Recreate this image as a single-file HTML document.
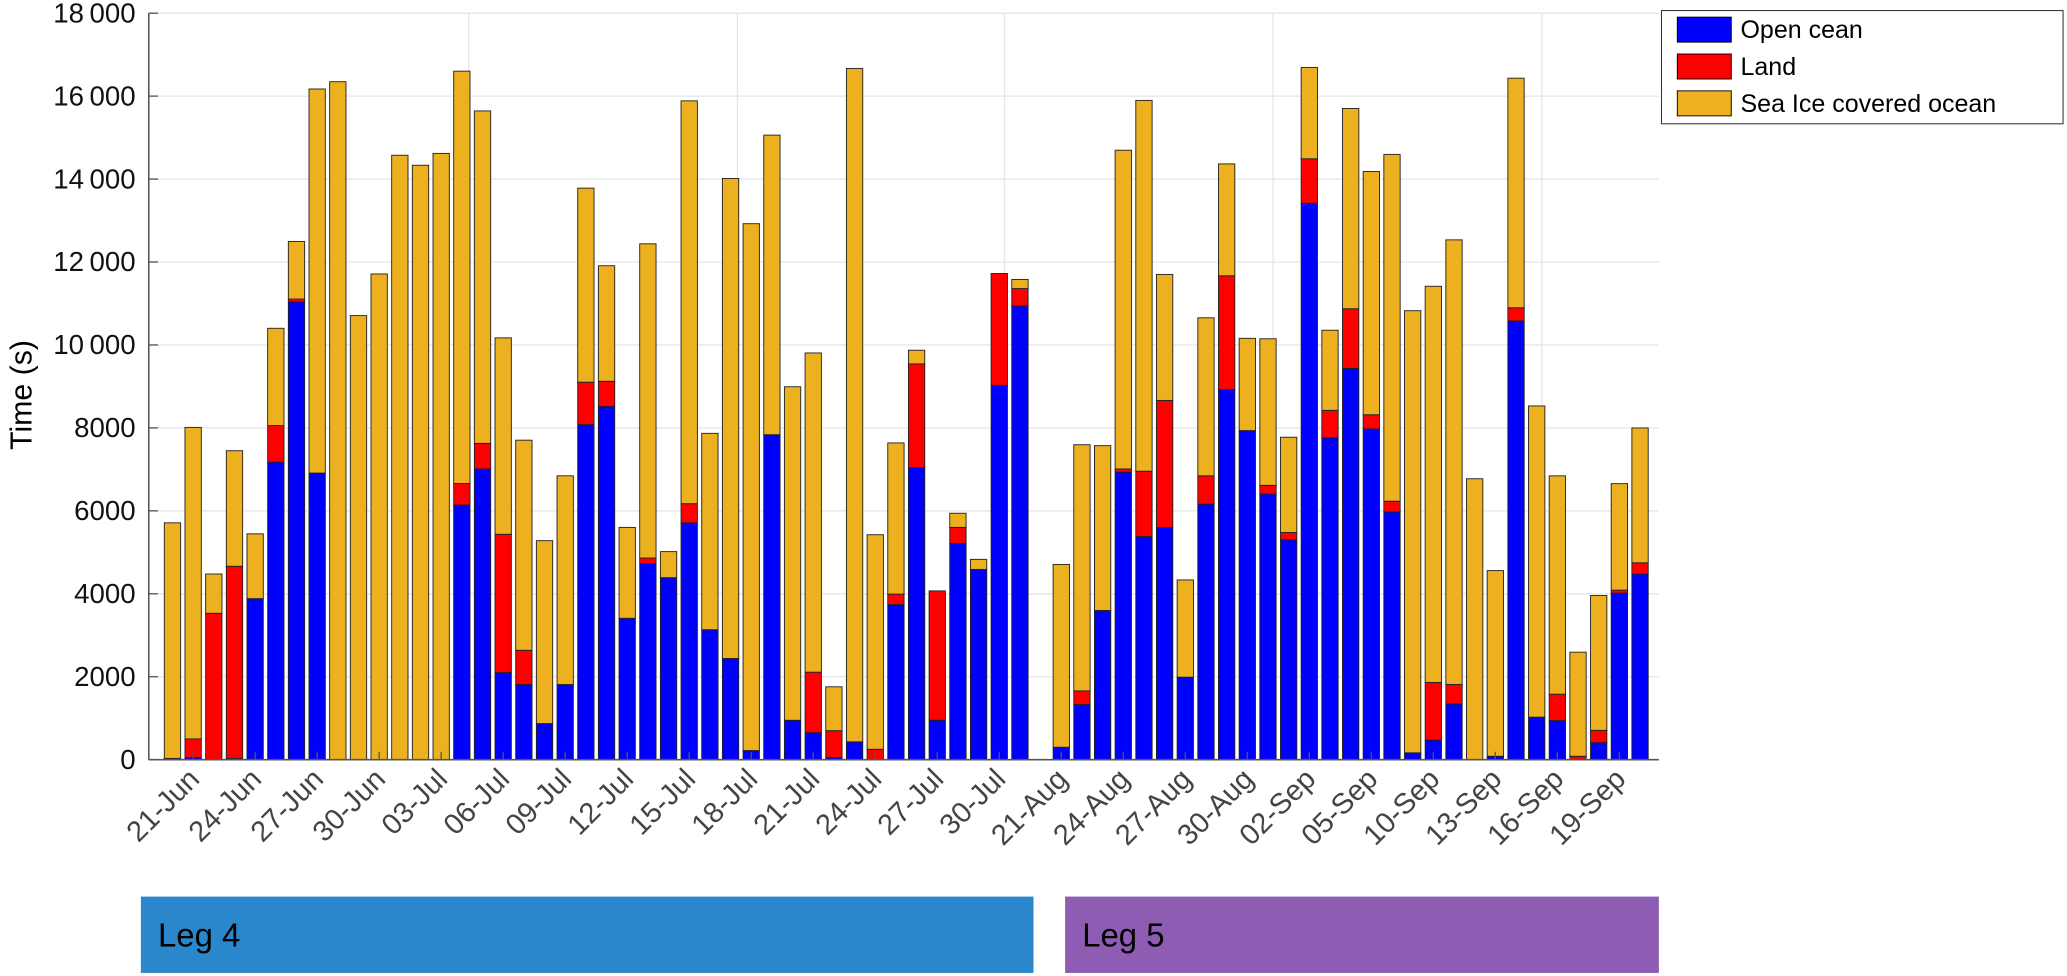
<!DOCTYPE html>
<html><head><meta charset="utf-8"><style>
html,body{margin:0;padding:0;background:#fff;}
svg{display:block;font-family:"Liberation Sans",sans-serif;}
</style></head><body>
<svg id="chart" width="2067" height="976" viewBox="0 0 1570 741.3" xmlns="http://www.w3.org/2000/svg">
<g id="grid"></g>
<g id="bars"></g>
<g id="axes"></g>
<text transform="translate(24,300) rotate(-90)" text-anchor="middle" font-size="23" fill="#000">Time (s)</text>
<g>
<rect x="1262" y="8" width="305" height="86" fill="#fff" stroke="#333" stroke-width="0.8"/>
<rect x="1274" y="13" width="41" height="19" fill="#0000ff" stroke="#000" stroke-width="0.7"/>
<text x="1322" y="29" font-size="19">Open cean</text>
<rect x="1274" y="41" width="41" height="19" fill="#ff0000" stroke="#000" stroke-width="0.7"/>
<text x="1322" y="57" font-size="19">Land</text>
<rect x="1274" y="69" width="41" height="19" fill="#edb120" stroke="#000" stroke-width="0.7"/>
<text x="1322" y="85" font-size="19">Sea Ice covered ocean</text>
</g>
<g>
<rect x="107" y="681" width="678" height="58" fill="#2b87cb"/>
<text x="120" y="719" font-size="25" fill="#000">Leg 4</text>
</g>
<g>
<rect x="809" y="681" width="451" height="58" fill="#8e5db3"/>
<text x="822" y="719" font-size="25" fill="#000">Leg 5</text>
</g>
</svg>
<script>
const openOcean = [30,50,0,30,3883,7175,11040,6911,0,0,0,0,0,0,6140,7010,2100,1812,870,1812,8078,8519,3409,4730,4389,5711,3134,2440,220,7836,950,650,50,430,0,3740,7043,950,5215,4587,9025,10941,0,300,1328,3597,6933,5380,5600,1989,6162,8926,7935,6405,5301,13417,7763,9436,7975,5972,165,471,1343,0,82,10578,1025,942,0,412,4017,4476];
const land = [0,450,3530,4634,0,881,67,0,0,0,0,0,0,0,518,617,3335,826,0,0,1024,605,0,133,0,462,0,0,0,0,0,1460,650,0,250,253,2500,3120,386,0,2698,419,0,0,330,0,77,1575,3062,0,683,2742,0,209,177,1072,660,1437,342,260,0,1390,471,0,0,319,0,637,82,295,71,271];
const seaIce = [5681,7512,947,2786,1563,2346,1387,9261,16348,10708,11712,14575,14333,14619,9944,8016,4736,5066,4411,5033,4680,2786,2192,7576,628,9713,4735,11574,12704,7224,8042,7697,1057,16238,5174,3645,330,0,341,243,0,220,0,4408,5936,3975,7686,8942,3039,2345,3810,2698,2225,3535,2297,2203,1932,4830,5866,8363,10661,9554,10720,6774,4477,5536,7504,5265,2510,3251,2568,3252];
const tickLabels = ["21-Jun","24-Jun","27-Jun","30-Jun","03-Jul","06-Jul","09-Jul","12-Jul","15-Jul","18-Jul","21-Jul","24-Jul","27-Jul","30-Jul","21-Aug","24-Aug","27-Aug","30-Aug","02-Sep","05-Sep","10-Sep","13-Sep","16-Sep","19-Sep"];
const tickBars = [2,5,8,11,14,17,20,23,26,29,32,35,38,41,44,47,50,53,56,59,62,65,68,71];
const yTicks = [0,2000,4000,6000,8000,10000,12000,14000,16000,18000];
const yTickText = ["0","2000","4000","6000","8000","10\u2009000","12\u2009000","14\u2009000","16\u2009000","18\u2009000"];
const vGrid = [15.33,28.33,41.25,54.25,67.25];

const NS="http://www.w3.org/2000/svg";
const X0=113,X1=1260,Y0=577,Y1=10,YMAX=18000;
function xs(i){return 131+(i-1)*15.7;}
function ys(v){return Y0-(v/YMAX)*(Y0-Y1);}
function mk(tag,attrs,parent){const e=document.createElementNS(NS,tag);for(const k in attrs)e.setAttribute(k,attrs[k]);parent.appendChild(e);return e;}
const grid=document.getElementById('grid'),bars=document.getElementById('bars'),axes=document.getElementById('axes');
yTicks.forEach((v,k)=>{
  const l=mk('line',{x1:X0,x2:X1,y1:ys(v),y2:ys(v),stroke:'#e6e6e6','stroke-width':1},grid);
  
  
  const t=mk('line',{x1:X0,x2:X0+7,y1:ys(v),y2:ys(v),stroke:'#555','stroke-width':1},axes);
  
  
  const tx=mk('text',{x:103,y:ys(v)+7,'text-anchor':'end','font-size':21,fill:'#111'},axes);
  tx.textContent=yTickText[k];
  
  
});
vGrid.forEach(b=>{
  const l=mk('line',{x1:xs(b),x2:xs(b),y1:Y1,y2:Y0,stroke:'#e6e6e6','stroke-width':1},grid);
  
  
});
const W=12.4;
for(let i=0;i<openOcean.length;i++){
  const tot=openOcean[i]+land[i]+seaIce[i];
  if(tot<=0)continue;
  const cx=xs(i+1);
  const segs=[[0,openOcean[i],'#0000ff','bar-open-ocean'],[openOcean[i],openOcean[i]+land[i],'#ff0000','bar-land'],[openOcean[i]+land[i],tot,'#edb120','bar-sea-ice']];
  segs.forEach(s=>{
    if(s[1]-s[0]<=0)return;
    const r=mk('rect',{x:cx-W/2,y:ys(s[1]),width:W,height:ys(s[0])-ys(s[1]),fill:s[2],stroke:'#222','stroke-width':0.7},bars);
    
    
  });
}
const ax=mk('line',{x1:X0,x2:X0,y1:Y1,y2:Y0,stroke:'#555','stroke-width':1.2},axes);


const bx=mk('line',{x1:X0,x2:X1,y1:Y0,y2:Y0,stroke:'#555','stroke-width':1.2},axes);


tickLabels.forEach((lab,k)=>{
  const x=xs(tickBars[k]);
  const tk=mk('line',{x1:x,x2:x,y1:Y0,y2:Y0-6,stroke:'#555','stroke-width':1},axes);
  
  
  const t=mk('text',{x:x+6,y:Y0+16,'text-anchor':'end','font-size':22,fill:'#444',transform:'rotate(-45 '+(x+6)+' '+(Y0+16)+')'},axes);
  t.textContent=lab;
  
  
});
</script>
</body></html>
